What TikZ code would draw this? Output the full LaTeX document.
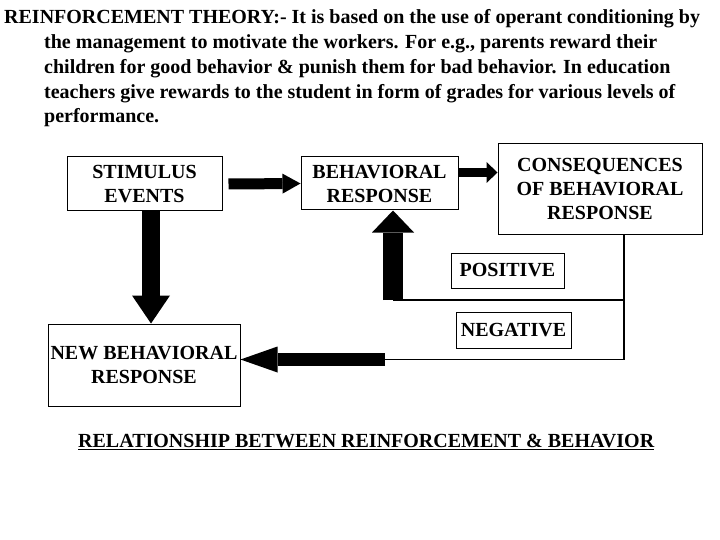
\documentclass[tikz,border=0pt]{standalone}
\usepackage{fontspec}
\setmainfont{Liberation Serif}
\usetikzlibrary{arrows.meta}

\tikzset{
  box/.style={draw, line width=1pt, inner sep=0pt, align=center, font=\fontsize{20}{24}\selectfont\bfseries},
  bodytext/.style={anchor=base west, inner sep=0pt, font=\fontsize{20}{25}\selectfont\bfseries},
  thinline/.style={line width=1.1pt},
  blockarrow/.style n args={3}{line width=#1, -{Triangle[length=#2, width=#3, line width=0pt]}}
}

\begin{document}
\begin{tikzpicture}[x=1pt,y=1pt,yscale=-1]
\useasboundingbox (0,0) rectangle (720,540);

% Text Node
\node [bodytext] (t1) at (4,24) {REINFORCEMENT THEORY:- It is based on the use of operant conditioning by};
\node [bodytext] (t2) at (44,49) {the management to motivate the workers. For e.g., parents reward their};
\node [bodytext] (t3) at (44,74) {children for good behavior \& punish them for bad behavior. In education};
\node [bodytext] (t4) at (44,99) {teachers give rewards to the student in form of grades for various levels of};
\node [bodytext] (t5) at (44,123) {performance.};

%Shape: Rectangle
\node [box, minimum width=155pt, minimum height=54pt] (stim) at (144.5,184) {STIMULUS\\EVENTS};
\node [box, minimum width=157pt, minimum height=53pt] (beh) at (379.5,183.5) {BEHAVIORAL\\RESPONSE};
\node [box, minimum width=204pt, minimum height=90pt] (cons) at (600,189) {CONSEQUENCES\\OF BEHAVIORAL\\RESPONSE};
\node [box, minimum width=113pt, minimum height=35pt] (pos) at (507.5,270.5) {POSITIVE};
\node [box, minimum width=115pt, minimum height=36pt] (neg) at (513.5,330) {NEGATIVE};
\node [box, minimum width=192pt, minimum height=82pt] (newb) at (144,365) {NEW BEHAVIORAL\\RESPONSE};

%Straight Lines
\coordinate (tap) at (624,234);
\coordinate (posend) at (393,300);
\coordinate (negend) at (385,359.5);
\draw [thinline] (tap) |- (negend);
\draw [thinline] (tap |- posend) -- (posend);

%Block Arrows
\draw [blockarrow={11pt}{18pt}{20pt}] ([xshift=6pt]stim.east) -- (beh.west);
\draw [blockarrow={9pt}{11pt}{21pt}] ([yshift=-11pt]beh.east) -- ([yshift=-11pt]beh.east -| cons.west);
\draw [blockarrow={18pt}{28pt}{38pt}] ([xshift=6.5pt]stim.south) -- ([xshift=6.5pt]stim.south |- newb.north);
\draw [blockarrow={20pt}{22pt}{42pt}] (posend) -- (posend |- beh.south);
\draw [blockarrow={13pt}{37pt}{26pt}] (negend) -- (negend -| newb.east);

% Text Node
\node [bodytext] (cap) at (78,447) {\underline{RELATIONSHIP BETWEEN REINFORCEMENT \& BEHAVIOR}};

\end{tikzpicture}
\end{document}
